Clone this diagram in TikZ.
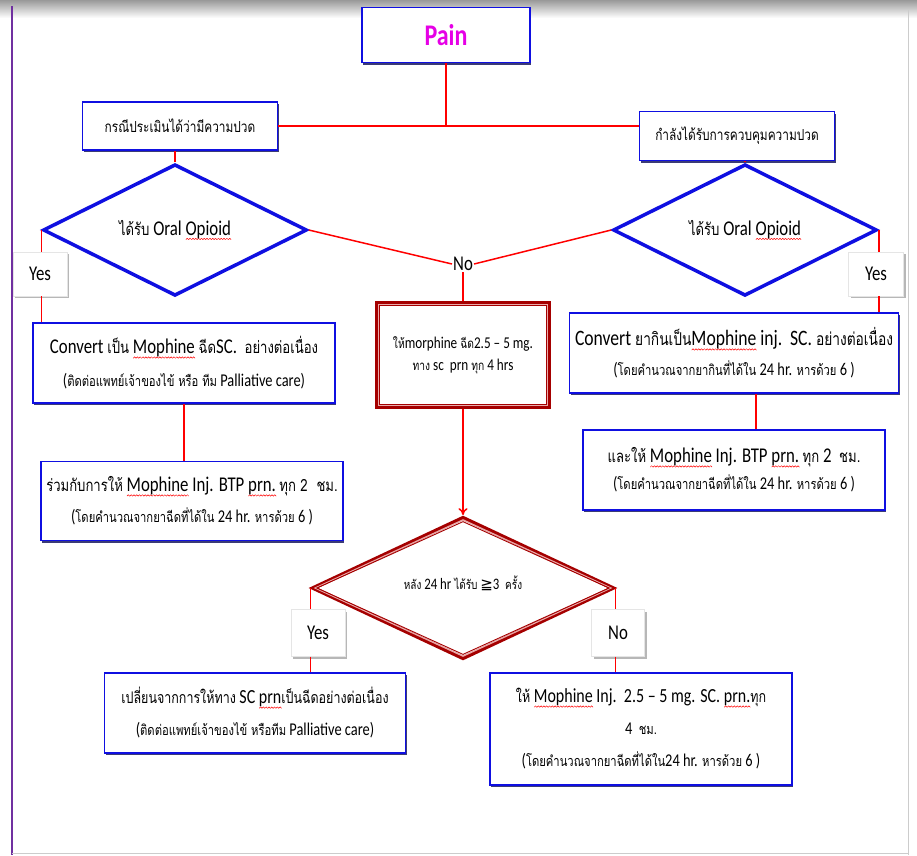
\documentclass[tikz,border=0pt]{standalone}
\usepackage{fontspec}
\setmainfont{Carlito}[FakeStretch=0.8]
\newfontfamily\thai[Script=Thai,FakeStretch=0.78,Scale=0.8]{Loma}
\newfontfamily\symf{DejaVu Sans}
\usetikzlibrary{shapes.geometric,shadows,calc,arrows.meta}
\newsavebox\wvbox
\newcommand\zz{\hbox{\rotatebox{45}{\color{red}\rule{2pt}{0.5pt}}\kern-0.4pt\raisebox{1.4pt}{\rotatebox{-45}{\color{red}\rule{2pt}{0.5pt}}}\kern-0.4pt}}
\newcommand\wv[1]{\sbox\wvbox{#1}\leavevmode\rlap{\raisebox{-4.5pt}{\hbox to \wd\wvbox{\xleaders\zz\hfil}}}\usebox\wvbox}
\newcommand\T[1]{{\thai #1}}
\newcommand\fs[2]{\fontsize{#1}{#2}\selectfont}
\definecolor{bbl}{RGB}{15,15,225}
\definecolor{nav}{RGB}{25,25,95}
\definecolor{dkr}{RGB}{165,0,0}
\definecolor{lr}{RGB}{255,0,0}
\definecolor{pk}{RGB}{235,170,170}
\definecolor{mg}{RGB}{230,0,230}
\definecolor{pu}{RGB}{112,48,160}
\tikzset{
  bbox/.style={draw=bbl, line width=1.6pt, fill=white, inner sep=2pt, align=center,
    drop shadow={shadow xshift=1.2pt, shadow yshift=-2.4pt, fill=nav, opacity=0.85}},
  bdia/.style={diamond, draw=bbl, line width=3.5pt, fill=white, inner sep=0pt, align=center},
  lab/.style={fill=white, draw=gray!20, inner sep=0pt,
    drop shadow={shadow xshift=2pt, shadow yshift=-2pt, fill=gray!70, opacity=0.8}},
  cn/.style={draw=lr, line width=1.5pt},
}
\begin{document}
\begin{tikzpicture}[x=1pt,y=-1pt]
\useasboundingbox (0,0) rectangle (917,855);
\fill[white] (0,0) rectangle (917,855);
% frame
\shade[top color=gray!80, bottom color=white] (0,0) rectangle (917,18);
\draw[pu, line width=1.5pt] (12,6) -- (12,855);
\draw[gray!40, line width=1pt] (908,10) -- (908,855);
\draw[gray!40, line width=1pt] (12,853) -- (908,853);

% nodes
\node[bbox, minimum width=168pt, minimum height=55pt, text=mg, font=\fs{30}{34}\bfseries] (pain) at (446,35) {Pain};
\node[bbox, minimum width=195pt, minimum height=48pt, font=\fs{19}{22}] (lb) at (180,126) {\T{กรณีประเมินได้ว่ามีความปวด}};
\node[bbox, minimum width=195pt, minimum height=49pt, font=\fs{19}{22}] (rb) at (737,136) {\T{กำลังได้รับการควบคุมความปวด}};

\node[bdia, minimum width=264pt, minimum height=86pt, font=\fs{21}{24}] (ld) at (175,230) {\T{ได้รับ} Oral \wv{Opioid}};
\node[bdia, minimum width=264pt, minimum height=86pt, font=\fs{21}{24}] (rd) at (745,230) {\T{ได้รับ} Oral \wv{Opioid}};

\node[fill=white, inner sep=1pt, font=\fs{21}{24}] (no) at (463,264) {No};

\node[lab, minimum width=54pt, minimum height=44pt, font=\fs{21}{24}] (ly) at (40,274) {Yes};
\node[lab, minimum width=55pt, minimum height=44pt, font=\fs{21}{24}] (ry) at (876,274) {Yes};

\node[bbox, minimum width=302pt, minimum height=80pt, font=\fs{21}{33}] (lc) at (184,363)
  {Convert \T{เป็น} \wv{Mophine} \T{ฉีด}SC.\ \ \T{อย่างต่อเนื่อง}\\
   \fs{18}{33}(\T{ติดต่อแพทย์เจ้าของไข้ หรือ ทีม} Palliative care)};
\node[bbox, minimum width=302pt, minimum height=79pt, font=\fs{21}{31}] (ll) at (192,501)
  {\T{ร่วมกับการให้} \wv{Mophine} Inj. BTP \wv{prn.}\,\T{ทุก 2\ \ ชม.}\\
   \fs{18}{31}(\T{โดยคำนวณจากยาฉีดที่ได้ใน} 24 hr. \T{หารด้วย} 6 )};

\node[draw=dkr, line width=3.5pt, fill=white, minimum width=172pt, minimum height=104pt, align=center, font=\fs{16.5}{22}] (mid) at (463,355)
  {\T{ให้}morphine \T{ฉีด}2.5 – 5 mg.\\ \T{ทาง} sc\ \ prn \T{ทุก} 4 hrs};

\node[bbox, minimum width=329pt, minimum height=80pt, font=\fs{22}{30}] (rc) at (734,353)
  {Convert \T{ยากินเป็น}\wv{Mophine} inj.\ \ SC. \T{อย่างต่อเนื่อง}\\
   \fs{18}{30}(\T{โดยคำนวณจากยากินที่ได้ใน} 24 hr. \T{หารด้วย} 6 )};
\node[bbox, minimum width=302pt, minimum height=80pt, font=\fs{21}{27}] (rl) at (734,470)
  {\T{และให้} \wv{Mophine} Inj. BTP \wv{prn.}\,\T{ทุก} 2\ \ \T{ชม.}\\
   \fs{18}{27}(\T{โดยคำนวณจากยาฉีดที่ได้ใน} 24 hr. \T{หารด้วย} 6 )};

\node[diamond, draw=dkr, line width=4pt, fill=white, minimum width=301pt, minimum height=124pt, inner sep=0pt, font=\fs{16}{18}] (bd) at (463,588)
  {\raisebox{10pt}{\T{หลัง} 24 hr \T{ได้รับ} {\symf\fs{15}{18}≧}3\ \ \T{ครั้ง}}};

\node[lab, minimum width=54pt, minimum height=47pt, font=\fs{21}{24}] (by) at (318,633) {Yes};
\node[lab, minimum width=53pt, minimum height=47pt, font=\fs{21}{24}] (bn) at (618,633) {No};

\node[bbox, minimum width=301pt, minimum height=80pt, font=\fs{20}{32}] (bl) at (255,713)
  {\T{เปลี่ยนจากการให้ทาง} SC \wv{prn}\T{เป็นฉีดอย่างต่อเนื่อง}\\
   \fs{18}{32}(\T{ติดต่อแพทย์เจ้าของไข้ หรือทีม} Palliative care)};
\node[bbox, minimum width=302pt, minimum height=112pt, font=\fs{20}{32}] (br) at (641,729)
  {\T{ให้} \wv{Mophine} Inj.\ \ 2.5 – 5 mg. SC. \wv{prn.}\T{ทุก}\\
   \fs{18}{32}4\ \ \T{ชม.}\\
   \fs{18}{32}(\T{โดยคำนวณจากยาฉีดที่ได้ใน}24 hr. \T{หารด้วย} 6 )};

% double edges (inner lines)
\draw[pk, line width=1.2pt] ([shift={(3.2,3.2)}]mid.north west) rectangle ([shift={(-3.2,-3.2)}]mid.south east);
\draw[dkr, line width=0.9pt] ([shift={(4.6,4.6)}]mid.north west) rectangle ([shift={(-4.6,-4.6)}]mid.south east);
\draw[pk, line width=1.2pt] ($(bd.north)!0.065!(bd.center)$) -- ($(bd.east)!0.03!(bd.center)$) -- ($(bd.south)!0.065!(bd.center)$) -- ($(bd.west)!0.03!(bd.center)$) -- cycle;
\draw[dkr, line width=0.9pt] ($(bd.north)!0.09!(bd.center)$) -- ($(bd.east)!0.042!(bd.center)$) -- ($(bd.south)!0.09!(bd.center)$) -- ($(bd.west)!0.042!(bd.center)$) -- cycle;

% connectors
\draw[cn, line width=2.5pt] (lb.east) -- (lb.east -| rb.west);
\draw[cn] (pain.south) -- (pain.south |- lb.east);
\draw[cn] (ld.north) -- (ld.north |- lb.south);
\draw[cn] (rd.north) -- (rd.north |- rb.south);
\draw[cn] (ld.east) -- (no.west);
\draw[cn] (rd.west) -- (no.east);
\draw[cn] (no.south) -- (mid.north);
\draw[cn] (ld.west) -- (ld.west |- ly.north);
\draw[cn] (ld.west |- ly.south) -- (ld.west |- lc.north);
\draw[cn] (rd.east) -- (rd.east |- ry.north);
\draw[cn] (rd.east |- ry.south) -- (rd.east |- rc.north);
\draw[cn] (lc.south) -- (lc.south |- ll.north);
\draw[cn] ([xshift=22pt]rc.south) -- ([xshift=22pt]rc.south |- rl.north);
\draw[cn, -{To[length=7pt,width=9pt]}] (mid.south) -- (bd.north);
\draw[cn] (bd.west) -- (bd.west |- by.north);
\draw[cn] (bd.west |- by.south) -- (bd.west |- bl.north);
\draw[cn] (bd.east) -- (bd.east |- bn.north);
\draw[cn] (bd.east |- bn.south) -- (bd.east |- br.north);
\end{tikzpicture}
\end{document}
